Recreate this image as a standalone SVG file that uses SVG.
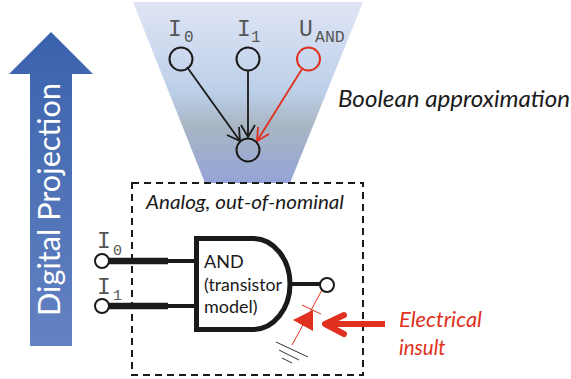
<svg xmlns="http://www.w3.org/2000/svg" width="571" height="379" viewBox="0 0 571 379">
<style>
.s{font-family:"Lato","Open Sans",sans-serif}
.m{font-family:"Liberation Mono","DejaVu Sans Mono",monospace;fill:#555}
.n{fill:none;stroke:#1a1a1a;stroke-width:2}
.w{fill:#fff;stroke:#1a1a1a;stroke-width:2}
.a{fill:none;stroke:#1a1a1a;stroke-width:1.8}
.r{fill:none;stroke:#e03020;stroke-width:1.8}
.e{fill:#e03020}
</style>
<defs>
<linearGradient id="g1" x1="0" y1="0" x2="0" y2="1"><stop offset="0" stop-color="#e0e5f5"/><stop offset=".5" stop-color="#bccfe8"/><stop offset=".68" stop-color="#a9b6c4"/><stop offset="1" stop-color="#94a3d6"/></linearGradient>
<linearGradient id="g2" x1="0" y1="0" x2="0" y2="1"><stop offset="0" stop-color="#3a62ac"/><stop offset="1" stop-color="#6382c2"/></linearGradient>
</defs>
<g id="trapezoid"><polygon points="133,2 363,2 290,183 205,183" fill="url(#g1)"/></g>
<g id="projection-arrow"><polygon points="51,32 93,74 72,74 72,346 30,346 30,74 9,74" fill="url(#g2)"/>
<text class="s" transform="translate(60,316) rotate(-90)" font-size="30" fill="#fff" textLength="233" lengthAdjust="spacingAndGlyphs">Digital Projection</text></g>
<g id="boundary"><rect x="132" y="183" width="231" height="192" fill="none" stroke="#1a1a1a" stroke-width="2" stroke-dasharray="7 5"/></g>
<g id="connectors">
<path class="a" d="M187,67 L240,141 M227,135 L240,141 L239,127"/>
<path class="a" d="M248,71 L248,137 M241,125 L248,137 L255,125"/>
<path class="r" d="M302,69 L257,141 M269,134 L257,141 L258,127"/>
<path d="M107,261 H168" stroke="#1a1a1a" stroke-width="6.500"/>
<path d="M168,261 H195" stroke="#1a1a1a" stroke-width="4"/>
<path d="M107,306 H168" stroke="#1a1a1a" stroke-width="6.500"/>
<path d="M168,306 H195" stroke="#1a1a1a" stroke-width="4"/>
<path d="M291,284 H320" stroke="#1a1a1a" stroke-width="4"/>
<path d="M322,290 L292,345" stroke="#e03020" stroke-width="1"/>
<path d="M385,324 H328" stroke="#e03020" stroke-width="6"/>
<path d="M344,315 L325,324 L344,334" fill="none" stroke="#e03020" stroke-width="6" stroke-linecap="round" stroke-linejoin="round"/>
</g>
<g id="node-i0"><circle class="n" cx="181" cy="59" r="11.500"/><text class="m" x="168" y="36" font-size="23">I</text><text class="m" x="184" y="42" font-size="16">0</text></g>
<g id="node-i1"><circle class="n" cx="248" cy="59" r="11.500"/><text class="m" x="237" y="36" font-size="23">I</text><text class="m" x="251" y="42" font-size="16">1</text></g>
<g id="node-uand"><circle cx="308.500" cy="59" r="11.500" fill="none" stroke="#e03020" stroke-width="2"/><text class="m" x="299" y="36" font-size="23">U</text><text class="m" x="315" y="42" font-size="16.500">AND</text></g>
<g id="node-out"><circle class="n" cx="248" cy="150" r="11.500"/></g>
<text class="s" x="338" y="107" font-size="23" font-style="italic" fill="#1a1a1a" textLength="232" lengthAdjust="spacingAndGlyphs">Boolean approximation</text>
<text class="s" x="146" y="209" font-size="18.500" font-style="italic" fill="#1a1a1a" textLength="198" lengthAdjust="spacingAndGlyphs">Analog, out-of-nominal</text>
<g id="and-gate"><path d="M196.500,238.500 H253 A37,45.500 0 0 1 253,329.500 H196.500 Z" fill="#fff" stroke="#1a1a1a" stroke-width="5"/>
<g class="s" font-size="18" fill="#1a1a1a"><text x="204" y="268">AND</text><text x="204" y="291" textLength="78" lengthAdjust="spacingAndGlyphs">(transistor</text><text x="204" y="313">model)</text></g></g>
<g id="input-i0"><circle class="w" cx="102" cy="261" r="7"/><text class="m" x="97" y="248" font-size="23">I</text><text class="m" x="113" y="255" font-size="15">0</text></g>
<g id="input-i1"><circle class="w" cx="102" cy="306" r="7"/><text class="m" x="97" y="294" font-size="23">I</text><text class="m" x="113" y="300" font-size="15">1</text></g>
<g id="output"><circle class="w" cx="327" cy="285" r="7"/></g>
<g id="diode"><polygon class="e" points="293,320 313,310 313,331"/><path d="M302,305 L321,314" stroke="#e03020" stroke-width="1"/></g>
<g id="ground" stroke="#333" stroke-width="1"><path d="M276,342 L308,357 M279,350 L299,360 M282,358 L292,363"/></g>
<g id="insult" class="s" font-size="20.500" font-style="italic" fill="#e03020"><text x="399" y="327" textLength="83" lengthAdjust="spacingAndGlyphs">Electrical</text><text x="399" y="355">insult</text></g>
</svg>
